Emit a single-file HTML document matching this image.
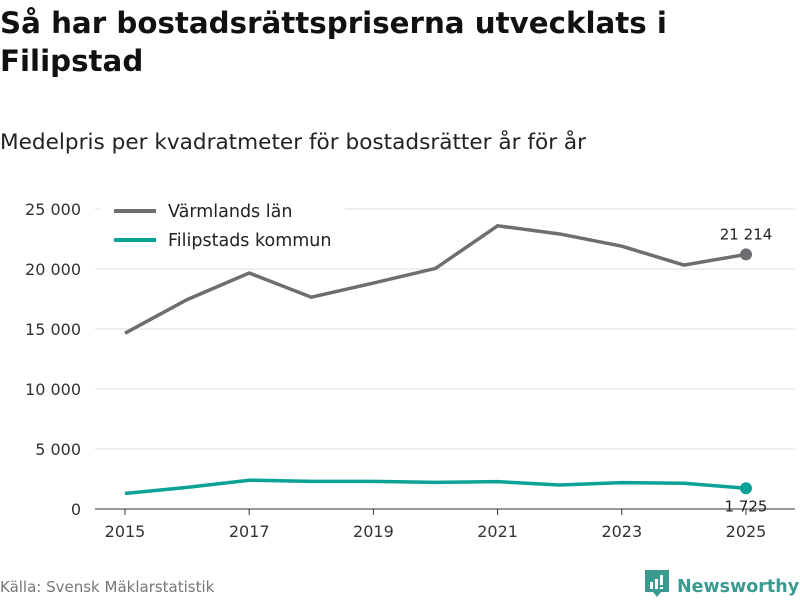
<!DOCTYPE html>
<html><head><meta charset="utf-8"><style>
body{margin:0;width:800px;height:600px;background:#fff;font-family:"DejaVu Sans","Liberation Sans",sans-serif;overflow:hidden;position:relative}
h1{position:absolute;left:0;top:4px;margin:0;font-size:29.3px;line-height:38px;font-weight:bold;color:#111}
.sub{position:absolute;left:0;top:130px;font-size:21.6px;color:#222;white-space:nowrap}
.src{position:absolute;left:0;top:578px;font-size:15px;color:#777}
.logo{position:absolute;left:645px;top:570px;color:#3a9a8f;font-weight:bold;font-size:17.5px;white-space:nowrap}
</style></head><body>
<h1>Så har bostadsrättspriserna utvecklats i<br>Filipstad</h1>
<div class="sub">Medelpris per kvadratmeter för bostadsrätter år för år</div>
<svg id="c" width="800" height="600" style="position:absolute;left:0;top:0"></svg>
<div class="src">Källa: Svensk Mäklarstatistik</div>
<div class="logo"><svg width="24" height="28" style="vertical-align:-6px;margin-right:8px"><path d="M0 0h24v22h-8l-4 5-4-5H0z" fill="#3a9a8f"/><rect x="5" y="12" width="3" height="7" fill="#fff"/><rect x="10" y="9" width="3" height="10" fill="#fff"/><rect x="15" y="5" width="3" height="10" fill="#fff"/><rect x="15" y="17" width="3" height="2" fill="#fff"/></svg>Newsworthy</div>
<script>
const years=[2015,2016,2017,2018,2019,2020,2021,2022,2023,2024,2025];
const varmland=[14650,17450,19670,17650,18830,20050,23600,22920,21900,20330,21214];
const filipstad=[1300,1800,2400,2300,2300,2220,2280,2000,2200,2150,1725];
const yTicks=[0,5000,10000,15000,20000,25000];
const xTicks=[2015,2017,2019,2021,2023,2025];
const svg=document.getElementById('c');const NS='http://www.w3.org/2000/svg';
const X=v=>125+(v-2015)*62.1, Y=v=>509-v*0.012;
const fmt=v=>v>=1000?Math.floor(v/1000)+' '+String(v%1000).padStart(3,'0'):String(v);
function el(t,a,txt){const e=document.createElementNS(NS,t);for(const k in a)e.setAttribute(k,a[k]);if(txt!=null)e.textContent=txt;svg.appendChild(e);return e;}
yTicks.forEach(v=>{
 const g=el('line',{x1:95,x2:795,y1:Y(v),y2:Y(v),stroke:v?'#ddd':'#333','stroke-width':1});
 
 
 const t=el('text',{x:81,y:Y(v)+6,'text-anchor':'end','font-size':16,fill:'#333'},fmt(v));
 
 
});
xTicks.forEach(v=>{
 const l=el('line',{x1:X(v),x2:X(v),y1:509,y2:515,stroke:'#333'});
 
 
 const t=el('text',{x:X(v),y:537,'text-anchor':'middle','font-size':16,fill:'#333'},v);
 
 
});
el('rect',{x:100,y:195,width:245,height:65,fill:'#fff'});
[[varmland,'#6e6d72','varmland-line'],[filipstad,'#0aa296','filipstad-line']].forEach(([d,c,n])=>{
 const p=el('polyline',{points:d.map((v,i)=>X(years[i])+','+Y(v)).join(' '),fill:'none',stroke:c,'stroke-width':3.5});
 
 
 const last=d.length-1;
 const ci=el('circle',{cx:X(years[last]),cy:Y(d[last]),r:6,fill:c});
 
 
});
const l1=el('text',{x:746,y:Y(varmland[10])-15,'text-anchor':'middle','font-size':15,fill:'#222'},fmt(varmland[10]));


const l2=el('text',{x:746,y:Y(filipstad[10])+23,'text-anchor':'middle','font-size':15,fill:'#222'},fmt(filipstad[10]));


[['Värmlands län','#6e6d72',211],['Filipstads kommun','#0aa296',240]].forEach(([t,c,y])=>{
 const ln=el('line',{x1:114,x2:156,y1:y,y2:y,stroke:c,'stroke-width':4});
 
 
 const tx=el('text',{x:168,y:y+6,'font-size':17.5,fill:'#222'},t);
 
 
});
</script>
</body></html>
